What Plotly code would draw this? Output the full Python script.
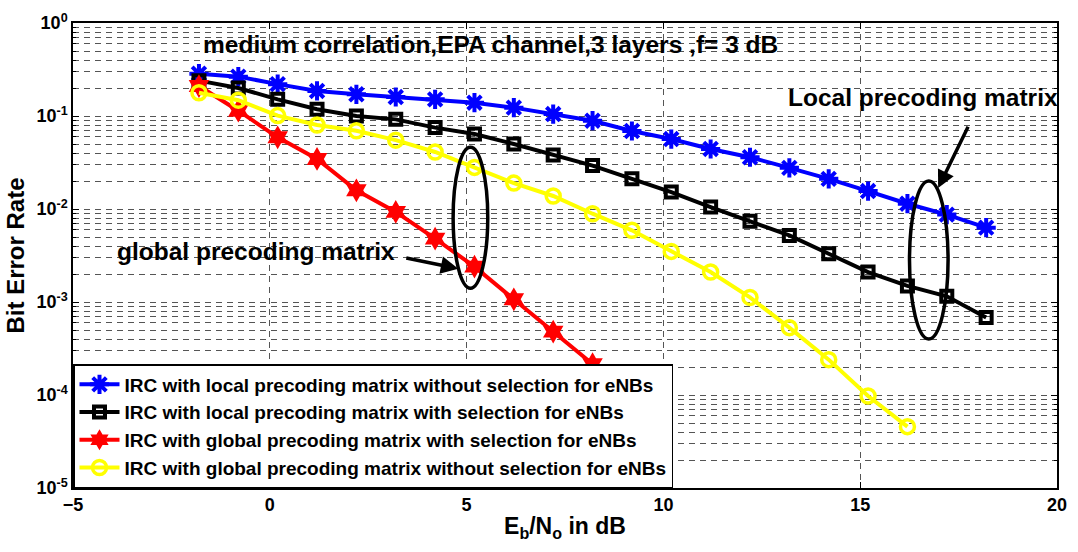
import plotly.graph_objects as go

# ---- data ----
x_blue = [-1.8, -0.8, 0.2, 1.2, 2.2, 3.2, 4.2, 5.2, 6.2, 7.2, 8.2, 9.2, 10.2, 11.2, 12.2, 13.2, 14.2, 15.2, 16.2, 17.2, 18.2]
ber_blue = [0.285, 0.265, 0.22, 0.186, 0.171, 0.16, 0.151, 0.139, 0.123, 0.105, 0.089, 0.069, 0.0565, 0.0442,
            0.036, 0.0277, 0.0211, 0.0156, 0.0114, 0.0087, 0.0063]

x_black = [-1.8, -0.8, 0.2, 1.2, 2.2, 3.2, 4.2, 5.2, 6.2, 7.2, 8.2, 9.2, 10.2, 11.2, 12.2, 13.2, 14.2, 15.2, 16.2, 17.2, 18.2]
ber_black = [0.24, 0.20, 0.151, 0.118, 0.100, 0.092, 0.075, 0.064, 0.050, 0.038, 0.0293, 0.0211, 0.0152, 0.0105,
             0.0074, 0.0052, 0.0033, 0.0021, 0.00149, 0.00115, 0.00068]

x_red = [-1.8, -0.8, 0.2, 1.2, 2.2, 3.2, 4.2, 5.2, 6.2, 7.2, 8.2]
ber_red = [0.21, 0.114, 0.059, 0.0345, 0.0159, 0.0093, 0.0048, 0.0024, 0.00107, 0.00048, 0.000215]

x_yellow = [-1.8, -0.8, 0.2, 1.2, 2.2, 3.2, 4.2, 5.2, 6.2, 7.2, 8.2, 9.2, 10.2, 11.2, 12.2, 13.2, 14.2, 15.2, 16.2]
ber_yellow = [0.178, 0.148, 0.101, 0.080, 0.0695, 0.055, 0.041, 0.028, 0.019, 0.0138, 0.0089, 0.0059, 0.0035,
              0.0021, 0.00112, 0.00053, 0.00024, 0.0000975, 0.0000457]

names = [
    "IRC with local precoding matrix without selection for eNBs",
    "IRC with local precoding matrix with selection for eNBs",
    "IRC with global precoding matrix with selection for eNBs",
    "IRC with global precoding matrix without selection for eNBs",
]

x_ticks = [-5, 0, 5, 10, 15, 20]
y_ticks = [1e-5, 1e-4, 1e-3, 1e-2, 1e-1, 1]
y_ticktext = ["10<sup>-5</sup>", "10<sup>-4</sup>", "10<sup>-3</sup>", "10<sup>-2</sup>", "10<sup>-1</sup>", "10<sup>0</sup>"]
y_minor = [k * 10.0 ** d for d in range(-5, 0) for k in range(2, 10)]

FONT = "Liberation Sans, Arial, sans-serif"

fig = go.Figure()
fig.add_trace(go.Scatter(x=x_blue, y=ber_blue, name=names[0], mode="lines+markers",
                         line=dict(color="#0000ff", width=4),
                         marker=dict(symbol="asterisk-open", size=16, line=dict(color="#0000ff", width=4))))
fig.add_trace(go.Scatter(x=x_black, y=ber_black, name=names[1], mode="lines+markers",
                         line=dict(color="#000000", width=4),
                         marker=dict(symbol="square-open", size=11, line=dict(color="#000000", width=4))))
fig.add_trace(go.Scatter(x=x_red, y=ber_red, name=names[2], mode="lines+markers",
                         line=dict(color="#ff0000", width=4),
                         marker=dict(symbol="hexagram", size=18, color="#ff0000", line=dict(width=0))))
fig.add_trace(go.Scatter(x=x_yellow, y=ber_yellow, name=names[3], mode="lines+markers",
                         line=dict(color="#ffff00", width=4),
                         marker=dict(symbol="circle-open", size=14, line=dict(color="#ffff00", width=3.5))))

grid = dict(gridcolor="#555555", griddash="6px,5px", gridwidth=1)

fig.update_xaxes(range=[-5, 20], tickvals=x_ticks, ticks="inside", ticklen=6, tickcolor="black",
                 showline=True, linecolor="black", linewidth=1.5, mirror="allticks",
                 showgrid=True, zeroline=False, tickfont=dict(size=18, color="black"),
                 title=dict(text="E<sub>b</sub>/N<sub>o</sub> in dB", font=dict(size=23, color="black"), standoff=4),
                 **grid)
fig.update_yaxes(type="log", range=[-5, 0], tickvals=y_ticks, ticktext=y_ticktext, ticks="inside",
                 ticklen=6, tickcolor="black", showline=True, linecolor="black", linewidth=1.5,
                 mirror="allticks", showgrid=True, zeroline=False, tickfont=dict(size=18, color="black"),
                 title=dict(text="Bit Error Rate", font=dict(size=24, color="black"), standoff=5),
                 minor=dict(tickvals=y_minor, ticks="inside", ticklen=3, tickcolor="black", showgrid=True, **grid),
                 **grid)

# ellipses (paper coordinates of the plotting area)
fig.add_shape(type="circle", xref="paper", yref="paper", x0=0.3863, x1=0.4215, y0=0.4295, y1=0.7329,
              line=dict(color="black", width=3.5), layer="above")
fig.add_shape(type="circle", xref="paper", yref="paper", x0=0.8501, x1=0.8893, y0=0.3205, y1=0.6603,
              line=dict(color="black", width=3.5), layer="above")

# arrows
fig.add_annotation(x=4.79, y=-2.642, ax=3.43, ay=-2.524, xref="x", yref="y", axref="x", ayref="y",
                   showarrow=True, arrowhead=2, arrowsize=1, arrowwidth=3.5, arrowcolor="black", text="")
fig.add_annotation(x=16.98, y=-1.775, ax=17.76, ay=-1.10, xref="x", yref="y", axref="x", ayref="y",
                   showarrow=True, arrowhead=2, arrowsize=1, arrowwidth=3.5, arrowcolor="black", text="")

# texts
fig.add_annotation(x=5.6, y=-0.235, xref="x", yref="y", showarrow=False,
                   text="medium correlation,EPA channel,3 layers ,f= 3 dB", font=dict(size=24.5, color="black"))
fig.add_annotation(x=16.6, y=-0.80, xref="x", yref="y", showarrow=False,
                   text="Local precoding matrix", font=dict(size=24.5, color="black"))
fig.add_annotation(x=-0.35, y=-2.46, xref="x", yref="y", showarrow=False,
                   text="global precoding matrix", font=dict(size=24.5, color="black"))

fig.update_layout(
    width=1078, height=552,
    margin=dict(l=73, r=11, t=20, b=64),
    paper_bgcolor="white", plot_bgcolor="white",
    font=dict(family=FONT, weight="bold", color="black"),
    showlegend=True,
    legend=dict(x=0, y=0, xanchor="left", yanchor="bottom", bgcolor="white",
                bordercolor="black", borderwidth=1.5, font=dict(size=19, color="black"),
                tracegroupgap=0, itemwidth=40),
)

fig.write_html("out.html")
